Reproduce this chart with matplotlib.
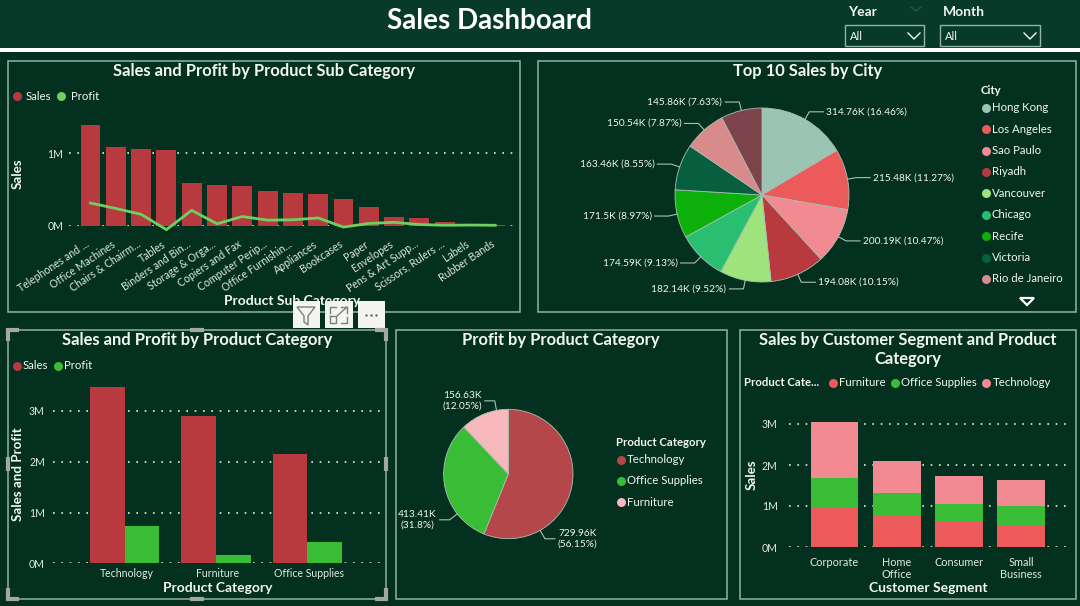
import numpy as np
import matplotlib
matplotlib.use('Agg')
import matplotlib.pyplot as plt
from matplotlib.patches import Rectangle, Polygon

W, H = 1080, 606
plt.rcParams['font.family'] = ['Lato', 'DejaVu Sans']

# data
sub_categories = ['Telephones and ...', 'Office Machines', 'Chairs & Chairm...', 'Tables', 'Binders and Bin...',
                  'Storage & Orga...', 'Copiers and Fax', 'Computer Perip...', 'Office Furnishin...', 'Appliances',
                  'Bookcases', 'Paper', 'Envelopes', 'Pens & Art Supp...', 'Scissors, Rulers ...', 'Labels', 'Rubber Bands']
sub_sales = [1.39, 1.08, 1.05, 1.036, 0.59, 0.566, 0.55, 0.48, 0.45, 0.44, 0.375, 0.255, 0.128, 0.11, 0.05, 0.017, 0.01]
sub_profit = [0.315, 0.24, 0.16, -0.05, 0.215, 0.03, 0.13, 0.08, 0.085, 0.11, -0.015, 0.035, 0.05, 0.02, 0.01, 0.013, 0.01]

city_names = ['Hong Kong', 'Los Angeles', 'Sao Paulo', 'Riyadh', 'Vancouver', 'Chicago', 'Recife', 'Victoria', 'Rio de Janeiro']
city_sales = [314.76, 215.48, 200.19, 194.08, 182.14, 174.59, 171.5, 163.46, 150.54, 145.86]
city_labels = ['314.76K (16.46%)', '215.48K (11.27%)', '200.19K (10.47%)', '194.08K (10.15%)', '182.14K (9.52%)',
               '174.59K (9.13%)', '171.5K (8.97%)', '163.46K (8.55%)', '150.54K (7.87%)', '145.86K (7.63%)']

categories = ['Technology', 'Furniture', 'Office Supplies']
cat_sales = [3.48, 2.90, 2.15]
cat_profit = [0.72996, 0.15663, 0.41341]

pie_categories = ['Technology', 'Office Supplies', 'Furniture']
pie_profit = [729.96, 413.41, 156.63]
pie_labels = ['729.96K\n(56.15%)', '413.41K\n(31.8%)', '156.63K\n(12.05%)']

segments = ['Corporate', 'Home\nOffice', 'Consumer', 'Small\nBusiness']
seg_furniture = [0.97, 0.75, 0.64, 0.52]
seg_office = [0.705, 0.575, 0.415, 0.48]
seg_technology = [1.375, 0.78, 0.675, 0.64]

# colours
BG = '#03301f'
HEADER = '#073a29'
BORDER = '#8fb5a5'
TXT = '#f2f7f2'
TICK = '#dfeadf'
RED = '#b83a3e'
GREEN = '#39bd37'
CORAL = '#ec5a5c'
PINK = '#f28a92'
LINE_GREEN = '#6fcf62'
city_colors = ['#9cc4b5', '#ec5a5c', '#f28a92', '#b83a3e', '#9ee37b', '#2abf70', '#0bb00b', '#075f40', '#d98b8c', '#7c434a']
pie_colors = ['#b5474a', '#39bd37', '#f7b9bd']


def px_axes(left, top, right, bottom):
    ax = fig.add_axes([left / W, 1 - bottom / H, (right - left) / W, (bottom - top) / H])
    ax.patch.set_alpha(0)
    for s in ax.spines.values():
        s.set_visible(False)
    return ax


def style_bars(ax, pad, ticks, ymax):
    ax.grid(axis='y', color='#e8f0e8', linestyle=(0, (1, 4)), linewidth=1.2)
    ax.set_axisbelow(True)
    ax.tick_params(length=0, colors=TICK, labelsize=8)
    ax.tick_params(axis='y', pad=pad, labelsize=7.6)
    ax.set_yticks(ticks)
    ax.set_yticklabels([f'{t}M' for t in ticks])
    ax.set_ylim(0, ymax)


def draw_pie(ax, values, colors, labels, angles=None, elbow=1.1, run=14):
    # wedges clockwise from 12 o'clock, leader line = radial piece + horizontal piece
    ax.pie(values, colors=colors, startangle=90, counterclock=False, radius=1,
           wedgeprops={'linewidth': 0.6, 'edgecolor': '#a8c0b0'})
    ax.set_xlim(-1, 1)
    ax.set_ylim(-1, 1)
    fr = np.cumsum([0] + list(values)) / sum(values)
    per_px = 1 / (ax.get_position().width * W / 2)
    for i, lab in enumerate(labels):
        a = 90 - 180 * (fr[i] + fr[i + 1]) if angles is None else angles[i]
        ca, sa = np.cos(np.radians(a)), np.sin(np.radians(a))
        side = 1 if ca >= 0 else -1
        xs = [ca, elbow * ca, elbow * ca + side * run * per_px]
        ys = [sa, elbow * sa, elbow * sa]
        ax.plot(xs, ys, color='#a9c0b2', lw=0.8, clip_on=False)
        ax.text(xs[2] + side * 3 * per_px, ys[2], lab, color=TXT, fontsize=7.3, clip_on=False,
                ha='left' if side > 0 else 'right', va='center', linespacing=1.1,
                multialignment='center')


fig = plt.figure(figsize=(W / 100, H / 100), dpi=100, facecolor=BG)

# overlay in pixel coordinates, for panels, legends and dashboard furniture
ov = fig.add_axes([0, 0, 1, 1], zorder=0)
ov.set_xlim(0, W)
ov.set_ylim(H, 0)
ov.axis('off')
top = fig.add_axes([0, 0, 1, 1], zorder=10)
top.set_xlim(0, W)
top.set_ylim(H, 0)
top.axis('off')
top.patch.set_alpha(0)

ov.add_patch(Rectangle((0, 0), W, 47.5, color=HEADER, lw=0))
ov.add_patch(Rectangle((0, 47.5), W, 4.5, color='white', lw=0))
ov.text(489.5, 21, 'Sales Dashboard', color='white', fontsize=20, fontweight='bold', ha='center', va='center')

for box, title, x_txt in [((845, 924), 'Year', 848), ((940, 1040), 'Month', 943)]:
    ov.text(x_txt, 12, title, color=TXT, fontsize=10, fontweight='bold', va='center')
    ov.add_patch(Rectangle((box[0], 24.5), box[1] - box[0], 21, fill=False, ec=BORDER, lw=1))
    ov.text(box[0] + 5, 37, 'All', color=TXT, fontsize=8, va='center')
    cx = box[1] - 10
    ov.plot([cx - 6, cx, cx + 6], [33, 39, 33], color=TXT, lw=1)
ov.plot([911, 916, 921], [7, 11, 7], color='#24584a', lw=1)

panels = [(7.5, 60.5, 520, 312), (538, 60.5, 1076, 312), (7.5, 330, 386, 599), (396, 330, 727, 599), (740, 330, 1076, 599)]
for l, t, r, b in panels:
    ov.add_patch(Rectangle((l, t), r - l, b - t, fill=False, ec=BORDER, lw=1.1))

for x, y, s in [(264, 71, 'Sales and Profit by Product Sub Category'), (808, 71, 'Top 10 Sales by City'),
                (197, 340, 'Sales and Profit by Product Category'), (561, 340, 'Profit by Product Category'),
                (908, 340, 'Sales by Customer Segment and Product'), (908, 359, 'Category')]:
    ov.text(x, y, s, color=TXT, fontsize=11.9, fontweight='bold', ha='center', va='center')


def legend_dot(x, y, color, label, tx, weight='normal', size=8.2):
    ov.scatter([x], [y], s=42, color=color, linewidths=0)
    ov.text(tx, y, label, color=TXT, fontsize=size, va='center', fontweight=weight)


# sub category combo chart
ax1 = px_axes(69.3, 113, 514, 226)
x1 = np.arange(len(sub_categories))
ax1.set_xlim((69.3 - 90.5) / 25.3, (514 - 90.5) / 25.3)
style_bars(ax1, 4.3, [0, 1], 113 / 73)
ax1.bar(x1, sub_sales, width=0.79, color=RED, clip_on=False)
ax1.plot(x1, sub_profit, color=LINE_GREEN, lw=2, clip_on=False, zorder=4)
ax1.set_xticks(x1 - 0.2)
ax1.set_xticklabels(sub_categories, rotation=34, ha='right', rotation_mode='anchor', fontsize=7.6)
ax1.tick_params(axis='x', pad=9)
legend_dot(17, 96, RED, 'Sales', 26)
legend_dot(61, 96, LINE_GREEN, 'Profit', 70.5)
ov.text(18, 174, 'Sales', color=TXT, fontsize=9.6, fontweight='bold', rotation=90, ha='center', va='center')
ov.text(292, 301, 'Product Sub Category', color=TXT, fontsize=10, fontweight='bold', ha='center', va='center')

# city pie
ax2 = px_axes(675, 108, 849, 282)
draw_pie(ax2, city_sales, city_colors, city_labels)
ov.text(981, 91, 'City', color=TXT, fontsize=8.2, fontweight='bold', va='center')
for i, name in enumerate(city_names):
    legend_dot(985.5, 107.7 + i * 21.4, city_colors[i], name, 992)
ov.add_patch(Polygon([(1020, 298), (1034, 298), (1027, 305)], fill=False, ec='white', lw=1.6))

# category bars
ax3 = px_axes(53, 385, 380, 563.3)
x3 = np.arange(len(categories))
ax3.set_xlim((53 - 124.7) / 91.3, (380 - 124.7) / 91.3)
style_bars(ax3, 5.8, [0, 1, 2, 3], (563.3 - 385) / 50.8)
ax3.bar(x3 - 0.19, cat_sales, width=0.38, color=RED)
ax3.bar(x3 + 0.19, cat_profit, width=0.38, color=GREEN)
ax3.set_xticks(x3 + 0.02)
ax3.set_xticklabels(categories, fontsize=7.6)
ax3.tick_params(axis='x', pad=3.5)
legend_dot(17, 365.7, RED, 'Sales', 22.7)
legend_dot(57.7, 365.7, GREEN, 'Profit', 63.7)
ov.text(18, 474, 'Sales and Profit', color=TXT, fontsize=9.6, fontweight='bold', rotation=90, ha='center', va='center')
ov.text(218, 588, 'Product Category', color=TXT, fontsize=10, fontweight='bold', ha='center', va='center')

# profit pie
ax4 = px_axes(443.6, 409.3, 573, 538.7)
draw_pie(ax4, pie_profit, pie_colors, pie_labels, angles=[-60.5, 218, 100.5], elbow=1.15, run=10)
ov.text(616, 442.7, 'Product Category', color=TXT, fontsize=8.2, fontweight='bold', va='center')
for i, name in enumerate(pie_categories):
    legend_dot(620.7, 459.5 + i * 21.4, pie_colors[i], name, 627)

# stacked segments
ax5 = px_axes(789, 405, 1072, 547)
x5 = np.arange(len(segments))
ax5.set_xlim((789 - 834.5) / 62.2, (1072 - 834.5) / 62.2)
style_bars(ax5, 8, [0, 1, 2, 3], 142 / 41)
ax5.bar(x5, seg_furniture, width=0.767, color=CORAL)
ax5.bar(x5, seg_office, width=0.767, bottom=seg_furniture, color=GREEN)
ax5.bar(x5, seg_technology, width=0.767, bottom=np.add(seg_furniture, seg_office), color=PINK)
ax5.set_xticks(x5)
ax5.set_xticklabels(segments, linespacing=1.05, fontsize=7.8)
ax5.tick_params(axis='x', pad=7.5)
ov.text(744.3, 383, 'Product Cate...', color=TXT, fontsize=8.2, fontweight='bold', va='center')
legend_dot(832.7, 383, CORAL, 'Furniture', 839)
legend_dot(895.3, 383, GREEN, 'Office Supplies', 901)
legend_dot(986, 383, PINK, 'Technology', 992.3)
ov.text(751.7, 475, 'Sales', color=TXT, fontsize=9.6, fontweight='bold', rotation=90, ha='center', va='center')
ov.text(928, 588, 'Customer Segment', color=TXT, fontsize=10, fontweight='bold', ha='center', va='center')

# selection frame of the focused visual
GREY = '#a3a8a5'
l, t, r, b = panels[2]
for cx, cy, dx, dy in [(l, t, 1, 1), (r, t, -1, 1), (l, b, 1, -1), (r, b, -1, -1)]:
    top.plot([cx + dx * 11, cx, cx], [cy, cy, cy + dy * 11], color=GREY, lw=3, solid_capstyle='butt', solid_joinstyle='miter')
top.plot([190, 204], [t, t], color=GREY, lw=3, solid_capstyle='butt')
top.plot([190, 204], [b, b], color=GREY, lw=3, solid_capstyle='butt')
top.plot([l, l], [457, 471], color=GREY, lw=3, solid_capstyle='butt')
top.plot([r, r], [457, 471], color=GREY, lw=3, solid_capstyle='butt')

# hover toolbar
for x0, x1b in [(292.5, 320), (325, 352.5), (357.5, 385)]:
    top.add_patch(Rectangle((x0, 301), x1b - x0, 27, color='#f4f4f2', lw=0))
top.add_patch(Polygon([(297, 307), (315, 307), (308, 316), (308, 325), (304, 322), (304, 316)], fill=False, ec='#77807a', lw=1))
top.plot([330, 330, 336, 336, 330], [316, 323, 323, 316, 316], color='#77807a', lw=1)
top.plot([330, 330, 336], [313, 307, 307], color='#77807a', lw=1)
top.plot([341, 347, 347], [307, 307, 313], color='#77807a', lw=1)
top.plot([347, 347, 341], [317, 323, 323], color='#77807a', lw=1)
top.plot([337, 347], [316, 307], color='#77807a', lw=1)
top.scatter([366, 371, 376], [315, 315, 315], s=3, color='#5f6662', linewidths=0)

fig.savefig('out.png', dpi=100, facecolor=BG)
